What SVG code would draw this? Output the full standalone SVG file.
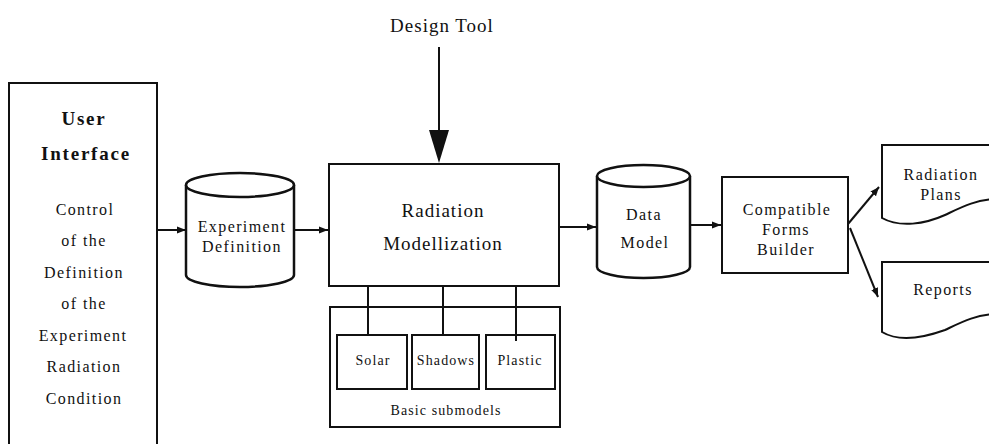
<svg xmlns="http://www.w3.org/2000/svg" width="989" height="444" viewBox="0 0 989 444">
<defs>
<style>
.box{fill:#fff;stroke:#111;stroke-width:2}
.cyl{fill:#fff;stroke:#111;stroke-width:2.5}
.ln{fill:none;stroke:#111;stroke-width:2}
.t{font-family:"Liberation Serif","Times New Roman",serif;fill:#111;text-anchor:middle}
.big{font-size:19px;letter-spacing:1px}
.bold{font-size:19px;font-weight:bold;letter-spacing:1.8px}
.mid{font-size:16px;letter-spacing:1.4px}
.sm{font-size:14px;letter-spacing:1.1px}
</style>
<marker id="ah" viewBox="0 0 10 10" refX="10" refY="5" markerWidth="9" markerHeight="9" markerUnits="userSpaceOnUse" orient="auto">
<path d="M0,1 L10,5 L0,9 Z" fill="#111"/>
</marker>
</defs>

<g id="design-tool">
<text class="t big" x="442" y="32">Design Tool</text>
</g>

<g id="user-interface">
<path class="box" d="M9,450 V83 H157 V450"/>
<text class="t bold" x="84" y="125">User</text>
<text class="t bold" x="86" y="160">Interface</text>
<text class="t mid" x="85" y="215">Control</text>
<text class="t mid" x="84" y="246">of the</text>
<text class="t mid" x="84" y="278">Definition</text>
<text class="t mid" x="84" y="309">of the</text>
<text class="t mid" x="83" y="341">Experiment</text>
<text class="t mid" x="84" y="372">Radiation</text>
<text class="t mid" x="84" y="404">Condition</text>
</g>

<g id="experiment-definition">
<path class="cyl" d="M186,185 V275 A54,12 0 0 0 294,275 V185"/>
<ellipse class="cyl" cx="240" cy="185" rx="54" ry="12"/>
<text class="t mid" x="242" y="232">Experiment</text>
<text class="t mid" x="242" y="252">Definition</text>
</g>

<g id="radiation-modellization">
<rect class="box" x="329" y="164" width="230" height="122"/>
<text class="t big" x="443" y="217">Radiation</text>
<text class="t big" x="443" y="250">Modellization</text>
</g>

<g id="basic-submodels">
<rect class="box" x="330" y="307" width="230" height="120"/>
<text class="t sm" x="446" y="415">Basic submodels</text>
</g>

<g id="solar">
<rect class="box" x="337" y="335" width="70" height="54"/>
<text class="t sm" x="373" y="365">Solar</text>
</g>

<g id="shadows">
<rect class="box" x="412" y="335" width="67" height="54"/>
<text class="t sm" x="446" y="365">Shadows</text>
</g>

<g id="plastic">
<rect class="box" x="486" y="335" width="69" height="54"/>
<text class="t sm" x="520" y="365">Plastic</text>
</g>

<g id="data-model">
<path class="cyl" d="M597,176 V267 A46.5,11 0 0 0 690,267 V176"/>
<ellipse class="cyl" cx="643.5" cy="176" rx="46.5" ry="11"/>
<text class="t mid" x="644" y="220">Data</text>
<text class="t mid" x="645" y="248">Model</text>
</g>

<g id="compatible-forms-builder">
<rect class="box" x="722" y="177" width="126" height="96"/>
<text class="t mid" x="787" y="215">Compatible</text>
<text class="t mid" x="786" y="235">Forms</text>
<text class="t mid" x="786" y="255">Builder</text>
</g>

<g id="radiation-plans">
<path class="box" d="M996,145 H882 V218 C900,228 925,224 945,215 C962,207 975,200 996,199"/>
<text class="t mid" x="941" y="180">Radiation</text>
<text class="t mid" x="941" y="200">Plans</text>
</g>

<g id="reports">
<path class="box" d="M996,262 H882 V332 C897,341 920,339 945,330 C962,322 975,315 996,314"/>
<text class="t mid" x="943" y="295">Reports</text>
</g>

<g id="connectors">
<line class="ln" x1="439" y1="47" x2="439" y2="132"/>
<path d="M429,130 L449,130 L439,163 Z" fill="#111"/>
<line class="ln" x1="157" y1="230" x2="186" y2="230" marker-end="url(#ah)"/>
<line class="ln" x1="294" y1="230" x2="328" y2="230" marker-end="url(#ah)"/>
<line class="ln" x1="559" y1="227" x2="596" y2="227" marker-end="url(#ah)"/>
<line class="ln" x1="690" y1="225" x2="721" y2="225" marker-end="url(#ah)"/>
<line class="ln" x1="848" y1="224" x2="879" y2="187" marker-end="url(#ah)"/>
<line class="ln" x1="850" y1="228" x2="878" y2="297" marker-end="url(#ah)"/>
<line class="ln" x1="368" y1="286" x2="368" y2="335"/>
<line class="ln" x1="443" y1="286" x2="443" y2="335"/>
<line class="ln" x1="516" y1="286" x2="516" y2="341"/>
</g>
</svg>
